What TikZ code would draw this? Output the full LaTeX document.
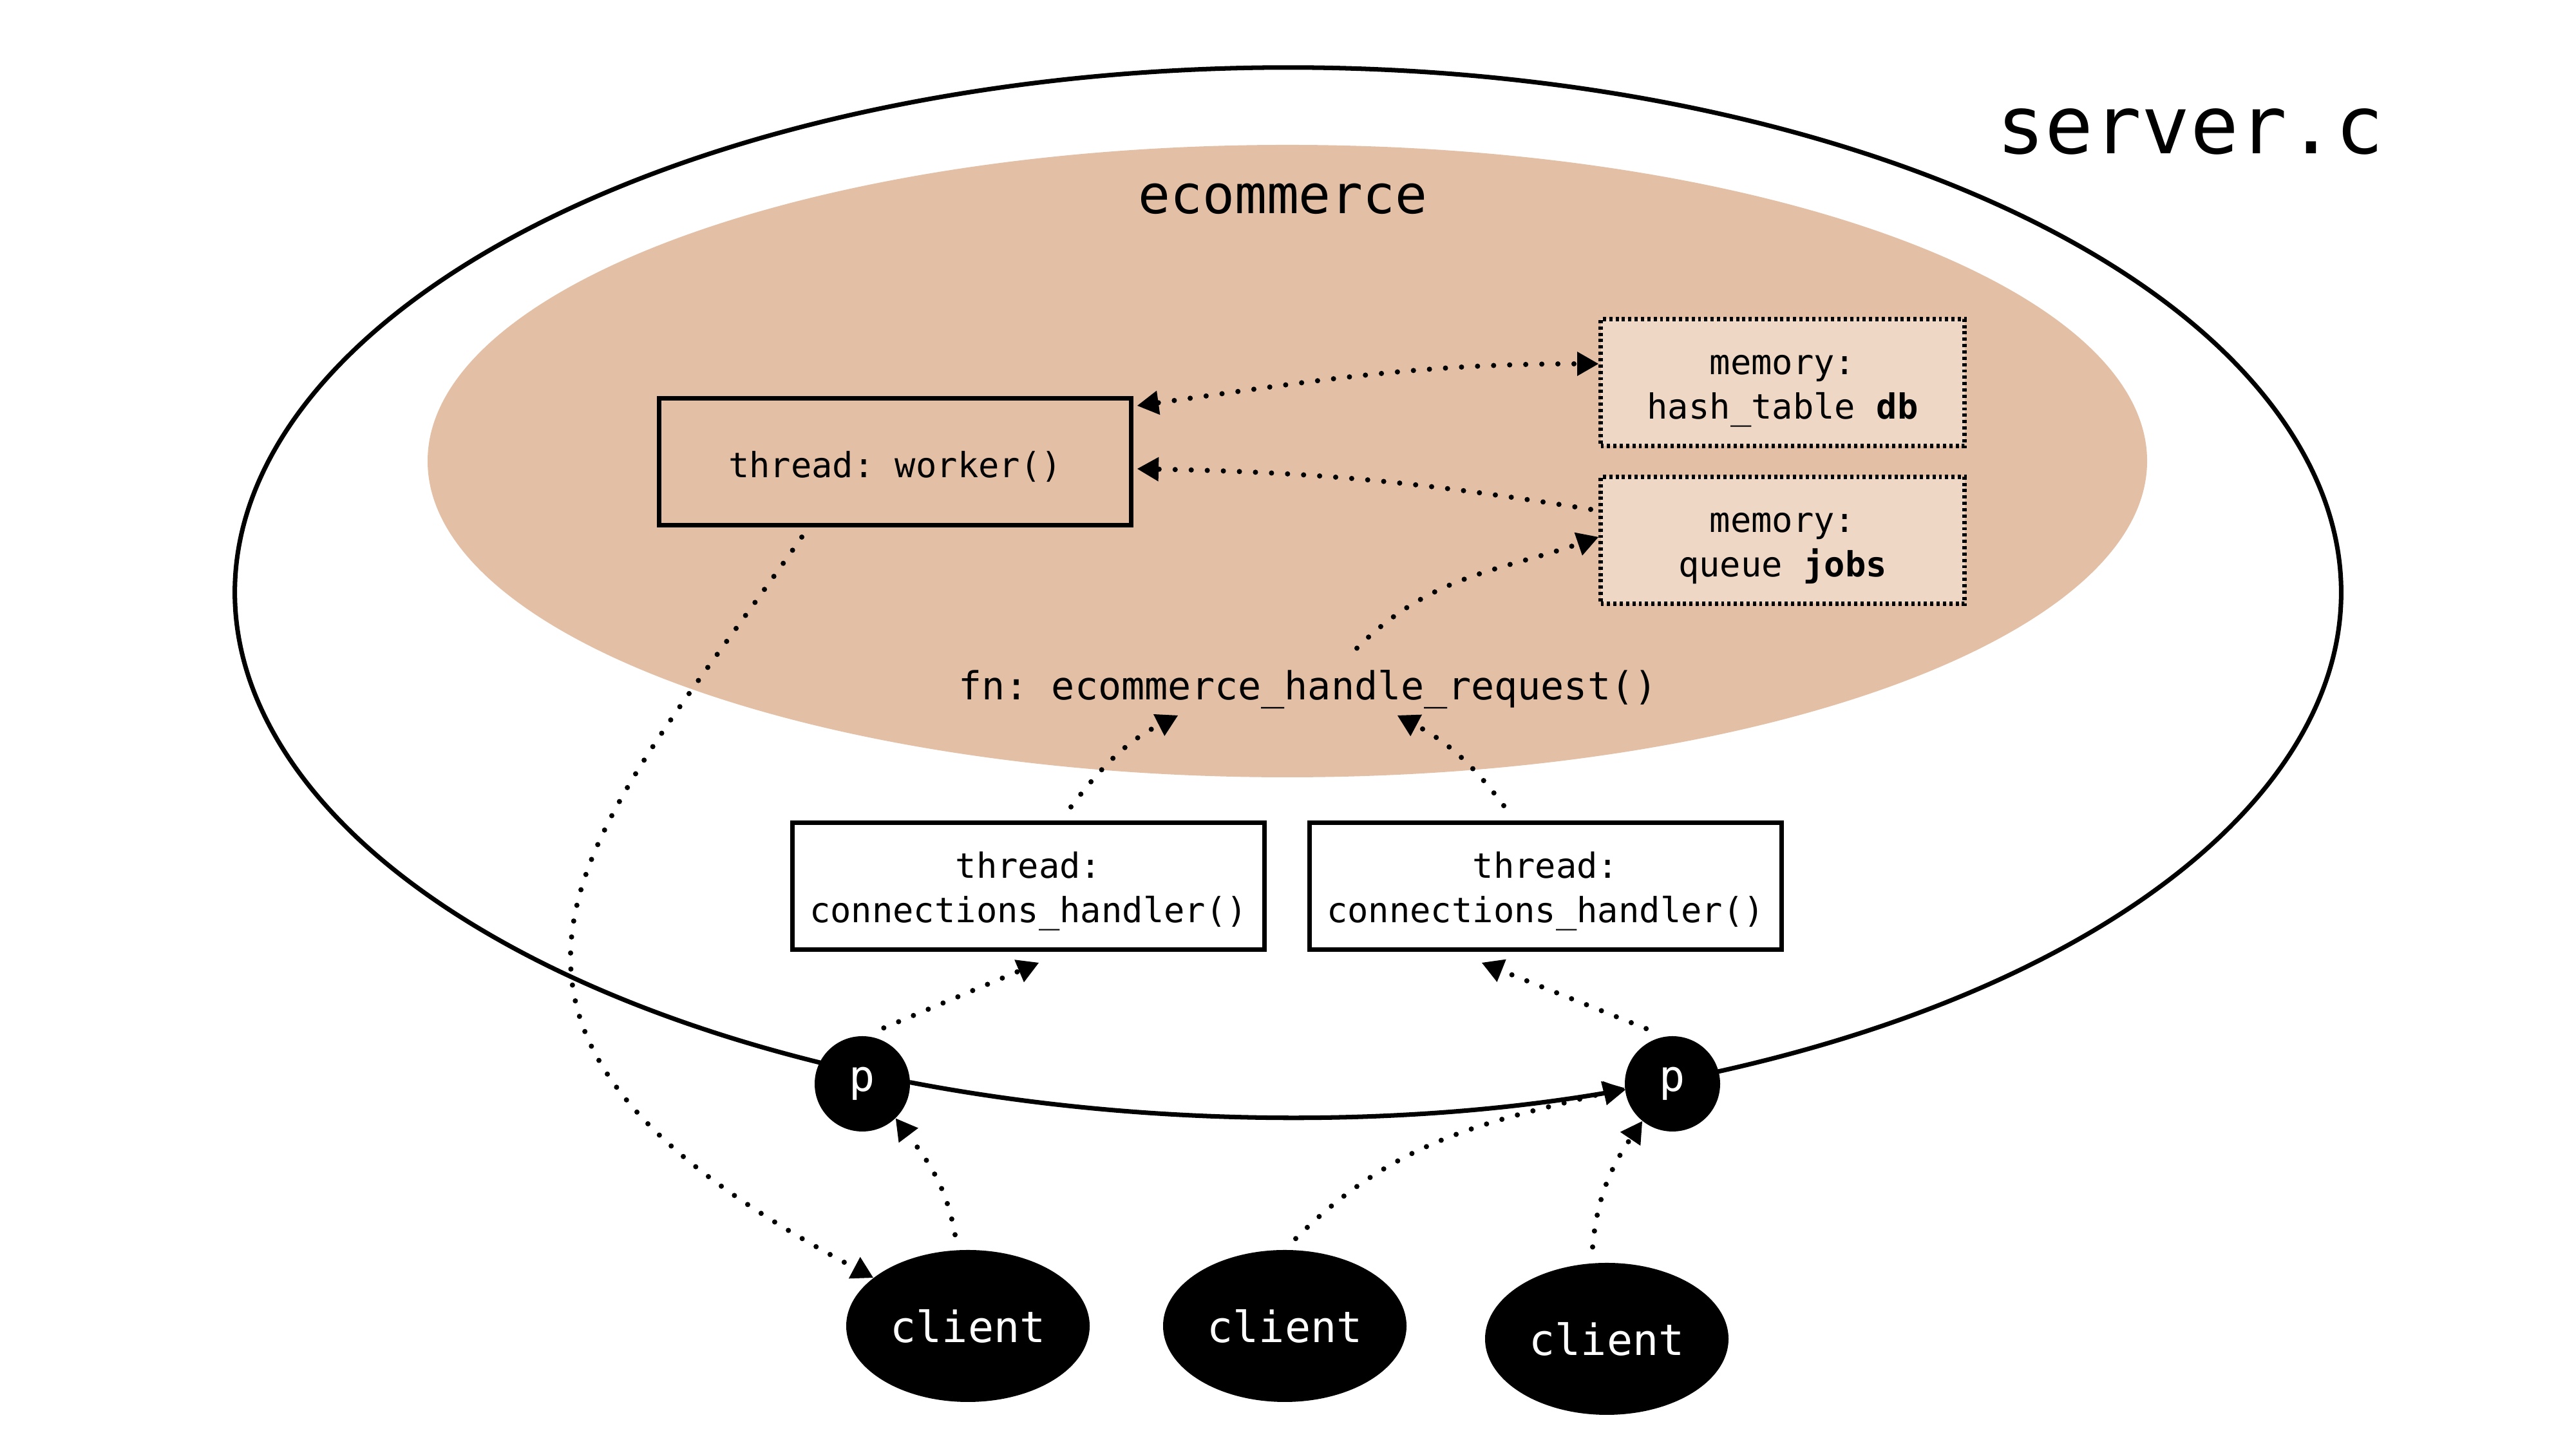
\documentclass[tikz,border=0pt]{standalone}
\usepackage{fontspec}
\setmonofont{DejaVu Sans Mono}
\usetikzlibrary{arrows.meta,shapes.geometric,calc}
\definecolor{nsfill}{RGB}{227,192,165}
\definecolor{memfill}{RGB}{239,215,197}
% invisible strut that sets the first line of a box label a little lower
\newcommand{\boxlift}{\rule{0pt}{0.56cm}}

\begin{document}
\begin{tikzpicture}[
  font=\ttfamily,
  ah/.tip={Triangle[length=0.33cm,width=0.38cm,line width=0pt]},
  box/.style={draw, line width=2pt, minimum width=7.33cm, minimum height=1.97cm,
    align=center, inner sep=0pt, font=\ttfamily\fontsize{15.3}{19.6}\selectfont},
  membox/.style={box, fill=memfill, minimum width=5.65cm, minimum height=1.97cm,
    dash pattern=on 1.4pt off 1.4pt},
  pnode/.style={circle, fill=black, minimum size=1.48cm, inner sep=0pt, text=white,
    font=\ttfamily\fontsize{19}{23}\selectfont},
  clientnode/.style={ellipse, fill=black, minimum width=3.78cm, minimum height=2.36cm,
    inner sep=0pt, text=white, font=\ttfamily\fontsize{19}{23}\selectfont},
  link/.style={line width=2.3pt, line cap=round, dash pattern=on 0pt off 7.1pt, -ah},
  solidline/.style={line width=2pt},
]
\fill[white] (0,0) rectangle (40,22.5);
\useasboundingbox (0,0) rectangle (40,22.5);

% process boundary (server.c)
\coordinate (O) at (20,13.30);
\draw[solidline] (O) ++(288.7:16.35 and 8.15)
  arc[start angle=288.7, end angle=608.96, x radius=16.35, y radius=8.15];
\draw[solidline, -ah] (O) ++(248.96:16.35 and 8.15)
  arc[start angle=248.96, end angle=288.7, x radius=16.35, y radius=8.15];

% ecommerce module
\fill[nsfill] (19.99,15.34) ellipse [x radius=13.35, y radius=4.91];

% labels
\node[font=\ttfamily\fontsize{35.5}{42}\selectfont] (server) at (34.01,20.46) {server.c};
\node[font=\ttfamily\fontsize{23.6}{28}\selectfont] (ecom) at (19.92,19.41) {ecommerce};
\node[font=\ttfamily\fontsize{17.1}{21}\selectfont] (fn) at (20.31,11.79) {fn: ecommerce\_handle\_request()};

% threads and memory
\node[box] (worker) at (13.90,15.33) {\boxlift thread: worker()};
\node[membox] (hash) at (27.68,16.56) {\boxlift memory:\\hash\_table \textbf{db}};
\node[membox] (queue) at (27.68,14.11) {\boxlift memory:\\queue \textbf{jobs}};
\node[box] (connL) at (15.97,8.74) {\boxlift thread:\\connections\_handler()};
\node[box] (connR) at (24.00,8.74) {\boxlift thread:\\connections\_handler()};

% ports and clients
\node[pnode] (pL) at (13.39,5.67) {p};
\node[pnode] (pR) at (25.97,5.67) {p};
\node[clientnode] (c1) at (15.03,1.91) {client};
\node[clientnode] (c2) at (19.95,1.91) {client};
\node[clientnode] (c3) at (24.95,1.71) {client};

% connections
\draw[link, ah-ah] ([xshift=0.06cm,yshift=-0.15cm]worker.north east)
  to[out=8,in=180] ([yshift=0.29cm]hash.west);
\draw[link] ([xshift=-0.12cm,yshift=0.48cm]queue.west)
  to[bend right=4] ([xshift=0.06cm,yshift=-0.11cm]worker.east);
\draw[link] ([xshift=0.76cm,yshift=0.22cm]fn.north)
  to[out=45,in=199] ([yshift=0.05cm]queue.west);
\draw[link] ([xshift=-1.45cm,yshift=-0.15cm]worker.south)
  to[out=235,in=152,out looseness=1.25,in looseness=1.9] (c1.153);
\draw[link] ([xshift=0.66cm,yshift=0.21cm]connL.north)
  to[out=53,in=207] ([xshift=-2.02cm,yshift=-0.40cm]fn.center);
\draw[link] ([xshift=-0.65cm,yshift=0.23cm]connR.north)
  to[out=127,in=-28] ([xshift=1.39cm,yshift=-0.40cm]fn.center);
\draw[link] ($(pL.center)+(69:0.93)$) -- ([xshift=0.16cm,yshift=-0.17cm]connL.south);
\draw[link] ($(pR.center)+(115.5:0.95)$) -- ([xshift=-0.99cm,yshift=-0.17cm]connR.south);
\draw[link] ([xshift=-0.2cm,yshift=0.23cm]c1.north) to[out=100,in=-53] (pL.-46);
\draw[link] ([xshift=0.17cm,yshift=0.17cm]c2.north) to[out=45,in=194] (pR.185);
\draw[link] ([xshift=-0.22cm,yshift=0.24cm]c3.north) to[out=85,in=236] (pR.-129);
\end{tikzpicture}
\end{document}
